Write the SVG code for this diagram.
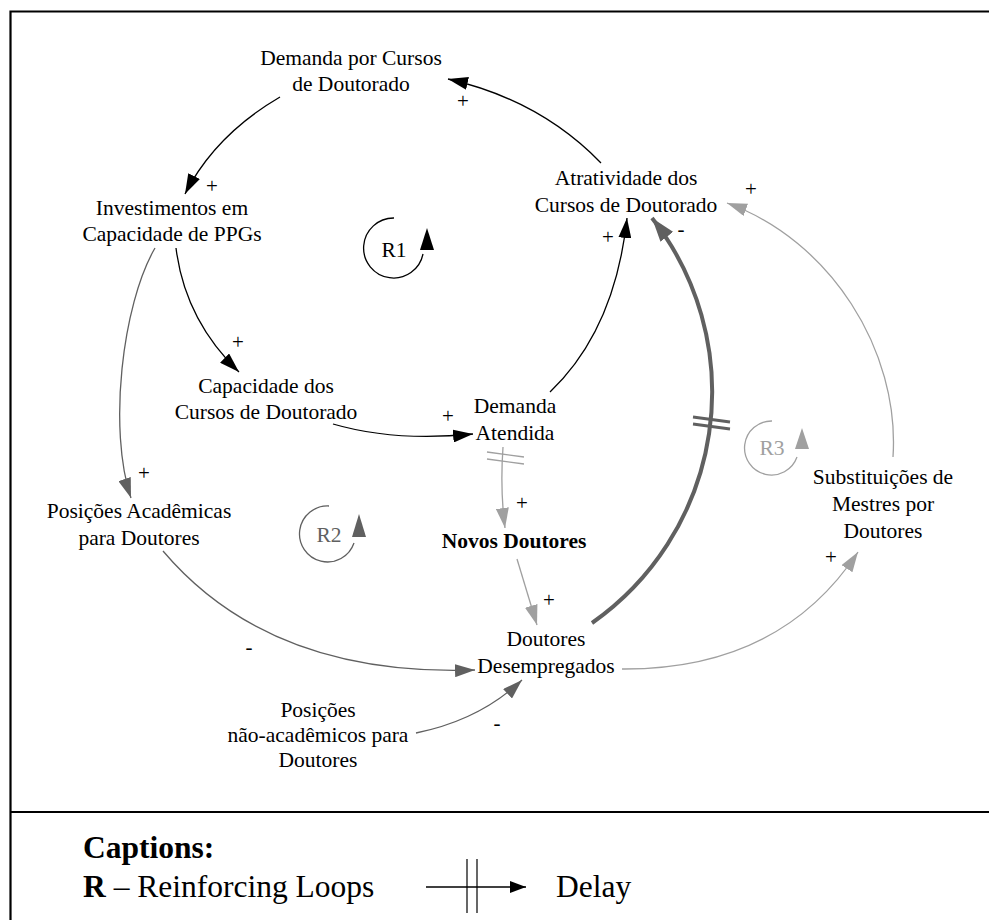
<svg xmlns="http://www.w3.org/2000/svg" width="989" height="920" viewBox="0 0 989 920">
<style>
text{font-family:"Liberation Serif","Times New Roman",serif;font-size:21.5px;fill:#000}
.n text{text-anchor:middle}
.sg{text-anchor:middle;font-size:21px}
.bold{font-weight:bold}
.k{fill:none;stroke:#000;stroke-width:1.3}
.d{fill:none;stroke:#606060;stroke-width:1.3}
.l{fill:none;stroke:#a0a0a0;stroke-width:1.3}
.cap{font-size:31.5px}
</style>
<defs>
<marker id="mk" viewBox="0 0 20 13" refX="20" refY="6.5" markerWidth="20" markerHeight="13" markerUnits="userSpaceOnUse" orient="auto"><path d="M0,0 L20,6.5 L0,13 z" fill="#000"/></marker>
<marker id="md" viewBox="0 0 20 13" refX="20" refY="6.5" markerWidth="20" markerHeight="13" markerUnits="userSpaceOnUse" orient="auto"><path d="M0,0 L20,6.5 L0,13 z" fill="#606060"/></marker>
<marker id="ml" viewBox="0 0 20 13" refX="20" refY="6.5" markerWidth="20" markerHeight="13" markerUnits="userSpaceOnUse" orient="auto"><path d="M0,0 L20,6.5 L0,13 z" fill="#a0a0a0"/></marker>
<marker id="mh" viewBox="0 0 24 16" refX="24" refY="8" markerWidth="24" markerHeight="16" markerUnits="userSpaceOnUse" orient="auto"><path d="M0,0 L24,8 L0,16 z" fill="#606060"/></marker>
<marker id="mc" viewBox="0 0 16 12" refX="16" refY="6" markerWidth="16" markerHeight="12" markerUnits="userSpaceOnUse" orient="auto"><path d="M0,0 L16,6 L0,12 z" fill="#000"/></marker>
</defs>

<g id="frame" fill="none" stroke="#000" stroke-width="2.2">
<path d="M10.5,920 V11.5 H989"/>
<path d="M10.5,812 H989"/>
</g>

<g id="connectors">
<path class="k" d="M601,163 Q540,100 448,79" marker-end="url(#mk)"/>
<path class="k" d="M280,97 Q215,135 185,194" marker-end="url(#mk)"/>
<path class="k" d="M176,248 Q185,320 239,372" marker-end="url(#mk)"/>
<path class="d" d="M155,248 C122,305 108,430 131,498" marker-end="url(#md)"/>
<path class="k" d="M333,424 Q395,442 473,434" marker-end="url(#mk)"/>
<path class="k" d="M550,392 Q615,330 627,218" marker-end="url(#mk)"/>
<path fill="none" stroke="#606060" stroke-width="4" d="M592,623 A282,282 0 0 0 652,218" marker-end="url(#mh)"/>
<g stroke="#606060" stroke-width="3">
<line x1="693" y1="417" x2="730" y2="422"/>
<line x1="693" y1="424" x2="730" y2="429"/>
</g>
<path class="l" d="M503,447 Q500,490 505,528" marker-end="url(#ml)"/>
<g stroke="#a0a0a0" stroke-width="1.3">
<line x1="487" y1="452" x2="524" y2="457"/>
<line x1="487" y1="459" x2="524" y2="464"/>
</g>
<path class="l" d="M517,559 L537,625" marker-end="url(#ml)"/>
<path class="d" d="M163,551 C230,630 330,675 475,670" marker-end="url(#md)"/>
<path class="d" d="M416,733 Q480,720 522,680" marker-end="url(#md)"/>
<path class="l" d="M622,669 Q780,670 858,552" marker-end="url(#ml)"/>
<path class="l" d="M893,457 C900,350 830,240 727,203" marker-end="url(#ml)"/>
</g>

<g id="signs">
<text class="sg" x="463" y="108">+</text>
<text class="sg" x="212" y="193">+</text>
<text class="sg" x="238" y="349">+</text>
<text class="sg" x="144" y="480">+</text>
<text class="sg" x="448" y="423">+</text>
<text class="sg" x="608" y="244">+</text>
<text class="sg" x="681" y="236">-</text>
<text class="sg" x="751" y="196">+</text>
<text class="sg" x="522" y="510">+</text>
<text class="sg" x="549" y="607">+</text>
<text class="sg" x="831" y="564">+</text>
<text class="sg" x="249" y="654">-</text>
<text class="sg" x="497" y="730">-</text>
</g>

<g id="loop-R1">
<path fill="none" stroke="#000" stroke-width="1.3" d="M394,218 A30,30 0 1 0 423,254"/>
<path d="M420,250 L434,250 L427,228 z" fill="#000"/>
<text x="394" y="257" text-anchor="middle">R1</text>
</g>
<g id="loop-R2">
<path fill="none" stroke="#606060" stroke-width="1.3" d="M329,506 A28,28 0 1 0 354,543"/>
<path d="M352,537 L366,537 L359,514 z" fill="#606060"/>
<text x="329" y="542" text-anchor="middle" style="fill:#606060">R2</text>
</g>
<g id="loop-R3">
<path fill="none" stroke="#a0a0a0" stroke-width="1.3" d="M772,421 A27,27 0 1 0 797,457"/>
<path d="M795,449 L809,449 L802,428 z" fill="#a0a0a0"/>
<text x="772" y="455" text-anchor="middle" style="fill:#a0a0a0">R3</text>
</g>

<g id="demanda-cursos" class="n"><text x="351" y="65">Demanda por Cursos</text><text x="351" y="91">de Doutorado</text></g>
<g id="investimentos" class="n"><text x="172" y="215">Investimentos em</text><text x="172" y="241">Capacidade de PPGs</text></g>
<g id="atratividade" class="n"><text x="626" y="185">Atratividade dos</text><text x="626" y="212">Cursos de Doutorado</text></g>
<g id="capacidade" class="n"><text x="266" y="393">Capacidade dos</text><text x="266" y="419">Cursos de Doutorado</text></g>
<g id="demanda-atendida" class="n"><text x="515" y="413">Demanda</text><text x="515" y="440">Atendida</text></g>
<g id="posicoes-academicas" class="n"><text x="139" y="518">Posições Acadêmicas</text><text x="139" y="545">para Doutores</text></g>
<g id="novos-doutores" class="n"><text x="514" y="548" class="bold">Novos Doutores</text></g>
<g id="doutores-desempregados" class="n"><text x="546" y="646">Doutores</text><text x="546" y="673">Desempregados</text></g>
<g id="posicoes-nao-academicas" class="n"><text x="318" y="717">Posições</text><text x="318" y="742">não-acadêmicos para</text><text x="318" y="767">Doutores</text></g>
<g id="substituicoes" class="n"><text x="883" y="484">Substituições de</text><text x="883" y="511">Mestres por</text><text x="883" y="538">Doutores</text></g>

<g id="captions">
<text class="cap bold" x="83" y="858">Captions:</text>
<text class="cap" x="83" y="897"><tspan class="bold">R</tspan> – Reinforcing Loops</text>
<line x1="426" y1="887" x2="526" y2="887" stroke="#000" stroke-width="1.3" marker-end="url(#mc)"/>
<line x1="467" y1="859" x2="467" y2="913" stroke="#000" stroke-width="1.2"/>
<line x1="477" y1="859" x2="477" y2="913" stroke="#000" stroke-width="1.2"/>
<text class="cap" x="556" y="897">Delay</text>
</g>
</svg>
